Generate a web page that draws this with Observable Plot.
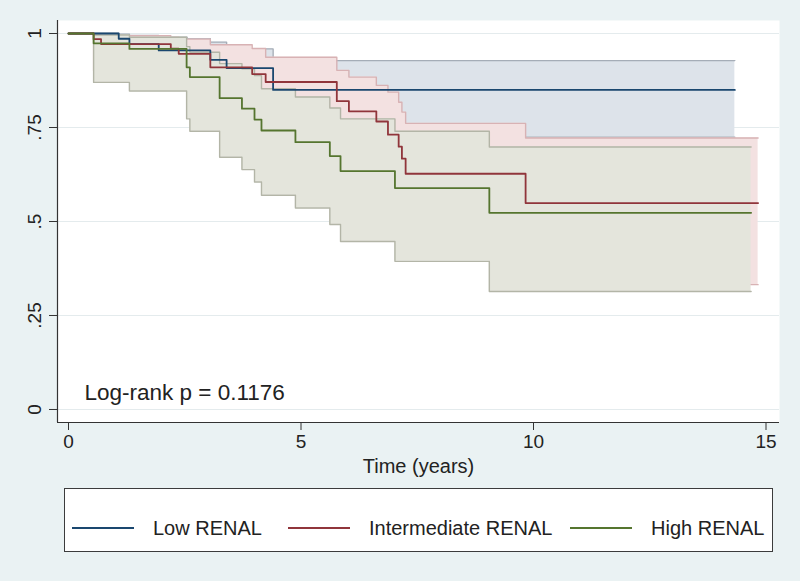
<!DOCTYPE html>
<html>
<head>
<meta charset="utf-8">
<script src="https://cdn.jsdelivr.net/npm/d3@7"></script>
<script src="https://cdn.jsdelivr.net/npm/@observablehq/plot@0.6"></script>
<style>
  html, body { margin: 0; padding: 0; }
  body { background: #eaf2f3; width: 800px; height: 581px; overflow: hidden; position: relative;
         font-family: "Liberation Sans", Arial, sans-serif; color: #222; }
  #chart { position: absolute; left: 0; top: 0; }
  #legend { position: absolute; left: 64px; top: 488px; width: 707px; height: 62px;
            background: #fff; border: 1px solid #3c3c3c; }
  .item { position: absolute; top: 27px; height: 24px; display: flex; align-items: center; }
  .swatch { width: 62px; height: 0; border-top: 2px solid; }
  .lab { font-size: 20px; margin-left: 19px; white-space: nowrap; }
</style>
</head>
<body>
<div id="chart"></div>
<div id="legend"></div>
<script>
// ---- Data (Kaplan–Meier estimates with 95% CI) ----
const groupNames = ["Low RENAL", "Intermediate RENAL", "High RENAL"];

const lowTime  = [0, 1.08, 1.31, 1.94, 2.55, 3.05, 3.40, 4.40, 14.33];
const lowSurv  = [1, 0.986, 0.972, 0.955, 0.955, 0.930, 0.908, 0.850, 0.850];
const lowLower = [1, 0.930, 0.910, 0.885, 0.885, 0.845, 0.815, 0.724, 0.724];
const lowUpper = [1, 0.998, 0.995, 0.990, 0.986, 0.977, 0.959, 0.928, 0.928];

const intTime  = [0, 0.54, 0.70, 2.20, 2.37, 3.05, 3.95, 4.24, 5.77, 6.03, 6.62, 6.87, 7.10, 7.17, 7.25, 9.83, 14.83];
const intSurv  = [1, 0.985, 0.972, 0.960, 0.946, 0.910, 0.892, 0.871, 0.820, 0.793, 0.766, 0.731, 0.699, 0.667, 0.627, 0.549, 0.549];
const intLower = [1, 0.900, 0.890, 0.870, 0.855, 0.810, 0.790, 0.765, 0.700, 0.670, 0.635, 0.595, 0.555, 0.520, 0.475, 0.332, 0.332];
const intUpper = [1, 0.998, 0.994, 0.990, 0.985, 0.970, 0.960, 0.937, 0.902, 0.884, 0.862, 0.844, 0.817, 0.791, 0.761, 0.722, 0.722];

const highTime  = [0, 0.54, 1.31, 2.54, 2.61, 3.25, 3.73, 4.00, 4.15, 4.88, 5.62, 5.85, 7.02, 9.05, 14.68];
const highSurv  = [1, 0.974, 0.959, 0.910, 0.884, 0.828, 0.800, 0.771, 0.742, 0.711, 0.674, 0.634, 0.589, 0.523, 0.523];
const highLower = [1, 0.870, 0.847, 0.773, 0.740, 0.671, 0.638, 0.605, 0.570, 0.536, 0.492, 0.447, 0.394, 0.314, 0.314];
const highUpper = [1, 0.996, 0.990, 0.965, 0.950, 0.920, 0.906, 0.888, 0.853, 0.831, 0.802, 0.773, 0.740, 0.698, 0.698];

const xTicks = [0, 5, 10, 15];
const xTickLabels = ["0", "5", "10", "15"];
const yTicks = [0, 0.25, 0.5, 0.75, 1];
const yTickLabels = ["0", ".25", ".5", ".75", "1"];
const xTitle = "Time (years)";
const annotation = "Log-rank p = 0.1176";

// ---- Styles ----
const lineColors = ["#1a476f", "#90353b", "#55752f"];
const bandFills  = ["#dde3ea", "#f3e1e1", "#e4e5dc"];
const bandEdges  = ["#a5adb7", "#d8b2b4", "#b3b5a7"];

function rows(time, surv, lower, upper) {
  return time.map((t, i) => ({t, s: surv[i], lo: lower[i], hi: upper[i]}));
}
const series = [
  rows(lowTime, lowSurv, lowLower, lowUpper),
  rows(intTime, intSurv, intLower, intUpper),
  rows(highTime, highSurv, highLower, highUpper)
];

const xDomain = [-0.2366, 15.29];
const yDomain = [-0.0346, 1.0346];

const marks = [
  Plot.frame({fill: "white", stroke: null}),
  Plot.gridY(yTicks, {stroke: "#e4ebed", strokeOpacity: 1, strokeWidth: 1})
];
series.forEach((d, i) => {
  marks.push(Plot.areaY(d, {x: "t", y1: "lo", y2: "hi", curve: "step-after", fill: bandFills[i]}));
  marks.push(Plot.line(d, {x: "t", y: "hi", curve: "step-after", stroke: bandEdges[i], strokeWidth: 1.4}));
  marks.push(Plot.line(d, {x: "t", y: "lo", curve: "step-after", stroke: bandEdges[i], strokeWidth: 1.4}));
});
series.forEach((d, i) => {
  marks.push(Plot.line(d, {x: "t", y: "s", curve: "step-after", stroke: lineColors[i], strokeWidth: 1.8}));
});
marks.push(
  Plot.ruleX([xDomain[0]], {stroke: "#333", strokeWidth: 1.2}),
  Plot.ruleY([yDomain[0]], {stroke: "#333", strokeWidth: 1.2}),
  Plot.axisX({ticks: xTicks, tickFormat: (d, i) => xTickLabels[xTicks.indexOf(d)], tickSize: 8, tickPadding: 4,
              fontSize: 19, label: null, stroke: "#333"}),
  Plot.axisY({ticks: yTicks, tickFormat: d => yTickLabels[yTicks.indexOf(d)], tickSize: 8, tickPadding: 9,
              tickRotate: -90, fontSize: 19, label: null, stroke: "#333"}),
  Plot.text([xTitle], {frameAnchor: "bottom", dy: 44, text: d => d, fontSize: 20, lineAnchor: "middle", fill: "#222"}),
  Plot.text([annotation], {frameAnchor: "bottom-left", dx: 27, dy: -30, text: d => d, fontSize: 22.5,
              textAnchor: "start", lineAnchor: "middle", fill: "#222"})
);

const chart = Plot.plot({
  width: 800,
  height: 480,
  marginLeft: 57,
  marginRight: 21,
  marginTop: 20,
  marginBottom: 58,
  x: {domain: xDomain, axis: null},
  y: {domain: yDomain, axis: null},
  style: {background: "transparent", fontFamily: "Liberation Sans, Arial, sans-serif", color: "#222", overflow: "visible"},
  marks
});
document.getElementById("chart").appendChild(chart);

// ---- Legend ----
const legend = document.getElementById("legend");
const itemLeft = [7, 223, 505];
groupNames.forEach((name, i) => {
  const it = document.createElement("div");
  it.className = "item";
  it.style.left = itemLeft[i] + "px";
  const sw = document.createElement("div");
  sw.className = "swatch";
  sw.style.borderTopColor = lineColors[i];
  const lab = document.createElement("span");
  lab.className = "lab";
  lab.textContent = name;
  it.appendChild(sw); it.appendChild(lab);
  legend.appendChild(it);
});
</script>
</body>
</html>
